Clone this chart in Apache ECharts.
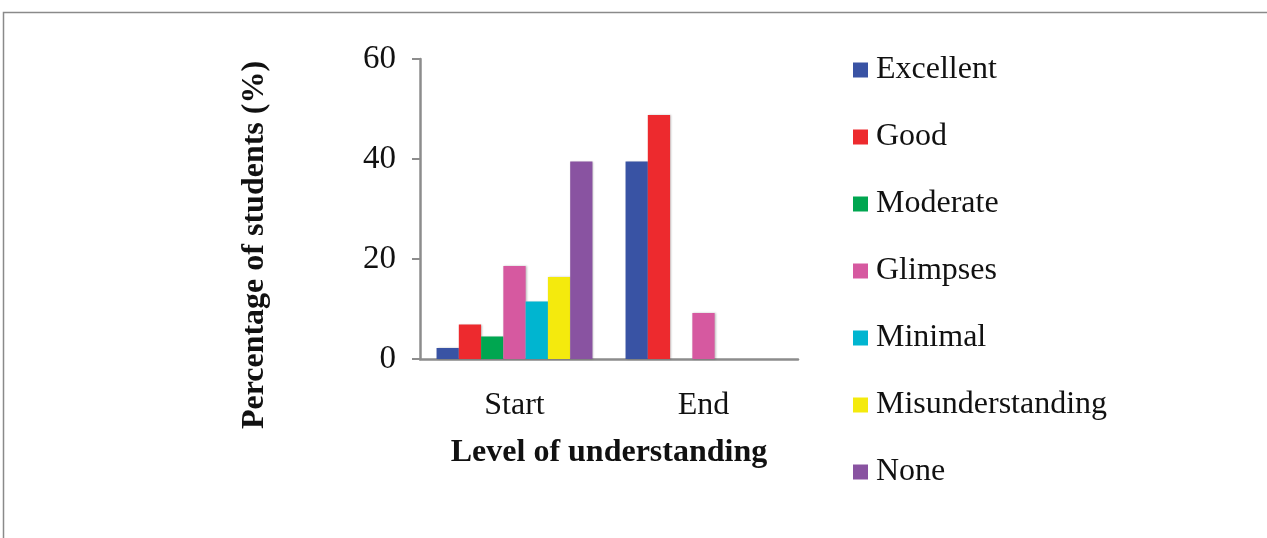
<!DOCTYPE html>
<html>
<head>
<meta charset="utf-8">
<script src="https://cdn.jsdelivr.net/npm/echarts@6/dist/echarts.min.js"></script>
<style>
html,body{margin:0;padding:0;background:#fff;}
#chart{width:1267px;height:538px;}
</style>
</head>
<body>
<div id="chart"></div>
<script>
const categories = ['Start', 'End'];
const seriesNames = ['Excellent', 'Good', 'Moderate', 'Glimpses', 'Minimal', 'Misunderstanding', 'None'];
const excellent = [2.2, 39.5];
const good = [6.9, 48.8];
const moderate = [4.5, 0];
const glimpses = [18.6, 9.2];
const minimal = [11.5, 0];
const misunderstanding = [16.4, 0];
const none = [39.5, 0];
const yTicks = [0, 20, 40, 60];
const colors = ['#3953A4', '#ED2A2E', '#00A650', '#D659A0', '#00B5D0', '#F4EA0D', '#8953A1'];

const values = [excellent, good, moderate, glimpses, minimal, misunderstanding, none];
const serif = "'Liberation Serif', 'Times New Roman', serif";

const chart = echarts.init(document.getElementById('chart'));
chart.setOption({
  animation: false,
  backgroundColor: '#fff',
  graphic: [{
    type: 'rect',
    shape: { x: 3.5, y: 12.5, width: 1300, height: 600 },
    style: { fill: 'none', stroke: '#8a8a8a', lineWidth: 1.5 },
    silent: true
  }],
  grid: { left: 420, right: 469, top: 59, bottom: 179 },
  legend: {
    orient: 'vertical',
    left: 848,
    top: 45,
    icon: 'rect',
    itemWidth: 15,
    itemHeight: 15,
    itemGap: 27,
    data: seriesNames,
    textStyle: { fontFamily: serif, fontSize: 32, color: '#111', lineHeight: 36, padding: [4, 0, 0, 3] }
  },
  xAxis: {
    type: 'category',
    data: categories,
    name: 'Level of understanding',
    nameLocation: 'middle',
    nameGap: 78,
    nameTextStyle: { fontFamily: serif, fontSize: 32, fontWeight: 'bold', color: '#111' },
    axisLine: { lineStyle: { color: '#8c8c8c', width: 2.5 } },
    axisTick: { show: false },
    axisLabel: { fontFamily: serif, fontSize: 32, color: '#111', margin: 31 }
  },
  yAxis: {
    type: 'value',
    min: 0, max: 60, interval: 20,
    name: 'Percentage of students (%)',
    nameLocation: 'middle',
    nameRotate: 90,
    nameGap: 149,
    nameTextStyle: { fontFamily: serif, fontSize: 32, fontWeight: 'bold', color: '#111', padding: [0, 72, 0, 0] },
    axisLine: { show: true, lineStyle: { color: '#8c8c8c', width: 2.5 } },
    axisTick: { show: true, length: 8, lineStyle: { color: '#8c8c8c', width: 2 } },
    splitLine: { show: false },
    axisLabel: { fontFamily: serif, fontSize: 33, color: '#111', margin: 24,
      formatter: v => yTicks.includes(v) ? String(v) : '' }
  },
  series: seriesNames.map((n, i) => ({
    name: n,
    type: 'bar',
    data: values[i],
    barGap: '0%',
    barCategoryGap: '17.5%',
    itemStyle: { color: colors[i], shadowColor: 'rgba(0,0,0,0.25)', shadowBlur: 2, shadowOffsetX: 1 }
  }))
});
</script>
</body>
</html>
